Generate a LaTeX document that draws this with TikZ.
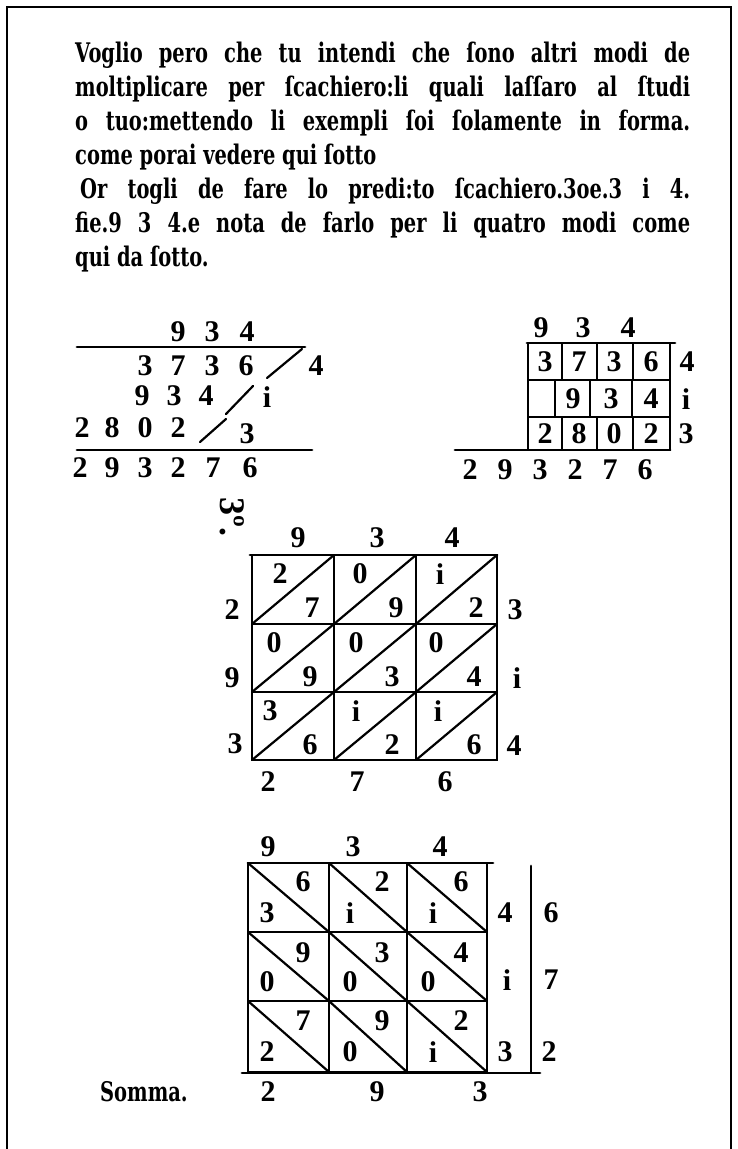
\documentclass[tikz,border=0pt]{standalone}
\usepackage{fontspec}
\setmainfont{Liberation Serif}
\newfontfamily\printfam{DejaVu Serif}[FakeStretch=0.72]
\newcommand\textfnt{\printfam\fontsize{27}{34}\selectfont\bfseries}
\newcommand\digfnt{\fontsize{30}{30}\selectfont\bfseries}

\begin{document}
\begin{tikzpicture}[x=1pt, y=-1pt,
  line/.style={anchor=west, inner sep=0pt, font=\textfnt},
  dig/.style={inner sep=0pt, font=\digfnt},
  rule/.style={line width=2.8pt, line cap=round},
  cell/.style={line width=2.2pt},
  diag/.style={line width=2.2pt, line cap=round}
]
  \useasboundingbox (0,0) rectangle (737,1149);
  \draw[line width=1.2pt] (7,1149) -- (7,7) -- (731,7) -- (731,1149);

  % text
  \node[line] (l1) at (75,55)  {\makebox[615pt][s]{Voglio pero che tu intendi che ſono altri modi de}};
  \node[line] (l2) at (75,89)  {\makebox[615pt][s]{moltiplicare per ſcachiero:li quali laſſaro al ſtudi}};
  \node[line] (l3) at (75,123) {\makebox[615pt][s]{o tuo:mettendo li exempli ſoi ſolamente in forma.}};
  \node[line] (l4) at (75,157) {come porai vedere qui ſotto};
  \node[line] (l5) at (80,191) {\makebox[610pt][s]{Or togli de fare lo predi:to ſcachiero.3oe.3 i 4.}};
  \node[line] (l6) at (75,225) {\makebox[615pt][s]{fie.9 3 4.e nota de farlo per li quatro modi come}};
  \node[line] (l7) at (75,259) {qui da ſotto.};

  % first way
  \node[dig] (at1) at (178,332) {9}; \node[dig] (at2) at (212,332) {3}; \node[dig] (at3) at (247,332) {4};
  \draw[rule] (77,347) -- (305,347);
  \node[dig] (aa1) at (145,366) {3}; \node[dig] (aa2) at (178,366) {7};
  \node[dig] (aa3) at (212,366) {3}; \node[dig] (aa4) at (246,366) {6};
  \node[dig] (ar1) at (316,366) {4};
  \draw[diag] (267,378) -- (302,349);
  \node[dig] (ab1) at (142,396) {9}; \node[dig] (ab2) at (174,396) {3}; \node[dig] (ab3) at (206,396) {4};
  \node[dig] (ar2) at (267,397) {i};
  \draw[diag] (226,414) -- (253,386);
  \node[dig] (ac1) at (82,428) {2}; \node[dig] (ac2) at (112,428) {8};
  \node[dig] (ac3) at (145,428) {0}; \node[dig] (ac4) at (178,428) {2};
  \node[dig] (ar3) at (247,434) {3};
  \draw[diag] (200,442) -- (226,419);
  \draw[rule] (77,450) -- (312,450);
  \node[dig] (as1) at (80,468) {2};  \node[dig] (as2) at (112,468) {9}; \node[dig] (as3) at (145,468) {3};
  \node[dig] (as4) at (178,468) {2}; \node[dig] (as5) at (213,468) {7}; \node[dig] (as6) at (250,468) {6};

  % second way
  \node[dig] (bt1) at (541,328) {9}; \node[dig] (bt2) at (583,328) {3}; \node[dig] (bt3) at (628,328) {4};
  \draw[cell] (528,343) rectangle (670,450);
  \draw[cell] (528,380) -- (670,380) (528,417) -- (670,417);
  \draw[cell] (562,343) -- (562,380) (597,343) -- (597,380) (633,343) -- (633,380);
  \draw[cell] (555,380) -- (555,417) (590,380) -- (590,417) (632,380) -- (632,417);
  \draw[cell] (562,417) -- (562,450) (597,417) -- (597,450) (633,417) -- (633,450);
  \draw[rule] (527,343) -- (675,343);
  \node[dig] (ba1) at (545,362) {3}; \node[dig] (ba2) at (579,362) {7};
  \node[dig] (ba3) at (614,362) {3}; \node[dig] (ba4) at (651,362) {6};
  \node[dig] (br1) at (687,362) {4};
  \node[dig] (bb1) at (573,399) {9}; \node[dig] (bb2) at (611,399) {3}; \node[dig] (bb3) at (651,399) {4};
  \node[dig] (br2) at (686,399) {i};
  \node[dig] (bc1) at (545,434) {2}; \node[dig] (bc2) at (579,434) {8};
  \node[dig] (bc3) at (614,434) {0}; \node[dig] (bc4) at (651,434) {2};
  \node[dig] (br3) at (686,434) {3};
  \draw[rule] (455,450) -- (670,450);
  \node[dig] (bs1) at (470,470) {2}; \node[dig] (bs2) at (505,470) {9}; \node[dig] (bs3) at (540,470) {3};
  \node[dig] (bs4) at (575,470) {2}; \node[dig] (bs5) at (610,470) {7}; \node[dig] (bs6) at (645,470) {6};

  % third way
  \node[dig, font=\fontsize{36}{36}\selectfont\bfseries, rotate=-90] (mark) at (232,517) {3º.};
  \node[dig] (ct1) at (298,538) {9}; \node[dig] (ct2) at (377,538) {3}; \node[dig] (ct3) at (452,538) {4};
  \draw[cell] (252,555) rectangle (497,760);
  \draw[cell] (334,555) -- (334,760) (416,555) -- (416,760);
  \draw[cell] (252,624) -- (497,624) (252,692) -- (497,692);
  \draw[rule] (250,555) -- (497,555);
  \draw[diag] (252,624) -- (334,555) (334,624) -- (416,555) (416,624) -- (497,555);
  \draw[diag] (252,692) -- (334,624) (334,692) -- (416,624) (416,692) -- (497,624);
  \draw[diag] (252,760) -- (334,692) (334,760) -- (416,692) (416,760) -- (497,692);
  \node[dig] (ca1) at (280,574) {2}; \node[dig] (ca2) at (312,608) {7};
  \node[dig] (ca3) at (360,574) {0}; \node[dig] (ca4) at (396,608) {9};
  \node[dig] (ca5) at (440,574) {i}; \node[dig] (ca6) at (476,608) {2};
  \node[dig] (cb1) at (274,643) {0}; \node[dig] (cb2) at (310,677) {9};
  \node[dig] (cb3) at (356,643) {0}; \node[dig] (cb4) at (392,677) {3};
  \node[dig] (cb5) at (436,643) {0}; \node[dig] (cb6) at (474,677) {4};
  \node[dig] (cc1) at (270,711) {3}; \node[dig] (cc2) at (310,745) {6};
  \node[dig] (cc3) at (356,711) {i}; \node[dig] (cc4) at (392,745) {2};
  \node[dig] (cc5) at (438,711) {i}; \node[dig] (cc6) at (474,745) {6};
  \node[dig] (cl1) at (232,610) {2}; \node[dig] (cl2) at (232,678) {9}; \node[dig] (cl3) at (235,744) {3};
  \node[dig] (cr1) at (515,610) {3}; \node[dig] (cr2) at (517,678) {i}; \node[dig] (cr3) at (514,746) {4};
  \node[dig] (cs1) at (268,782) {2}; \node[dig] (cs2) at (357,782) {7}; \node[dig] (cs3) at (445,782) {6};

  % fourth way
  \node[dig] (dt1) at (268,847) {9}; \node[dig] (dt2) at (353,847) {3}; \node[dig] (dt3) at (440,847) {4};
  \draw[cell] (248,863) rectangle (487,1072);
  \draw[cell] (329,863) -- (329,1072) (407,863) -- (407,1072);
  \draw[cell] (248,932) -- (487,932) (248,1001) -- (487,1001);
  \draw[rule] (248,863) -- (493,863);
  \draw[rule] (531,866) -- (531,1072);
  \draw[rule] (242,1073) -- (540,1073);
  \draw[diag] (248,863) -- (329,932) (329,863) -- (407,932) (407,863) -- (487,932);
  \draw[diag] (248,932) -- (329,1001) (329,932) -- (407,1001) (407,932) -- (487,1001);
  \draw[diag] (248,1001) -- (329,1072) (329,1001) -- (407,1072) (407,1001) -- (487,1072);
  \node[dig] (da1) at (303,882) {6}; \node[dig] (da2) at (267,913) {3};
  \node[dig] (da3) at (382,882) {2}; \node[dig] (da4) at (350,913) {i};
  \node[dig] (da5) at (461,882) {6}; \node[dig] (da6) at (433,913) {i};
  \node[dig] (db1) at (303,953) {9}; \node[dig] (db2) at (267,982) {0};
  \node[dig] (db3) at (382,953) {3}; \node[dig] (db4) at (350,982) {0};
  \node[dig] (db5) at (461,953) {4}; \node[dig] (db6) at (428,982) {0};
  \node[dig] (dc1) at (303,1021) {7}; \node[dig] (dc2) at (267,1052) {2};
  \node[dig] (dc3) at (382,1021) {9}; \node[dig] (dc4) at (350,1052) {0};
  \node[dig] (dc5) at (461,1021) {2}; \node[dig] (dc6) at (433,1052) {i};
  \node[dig] (dr1) at (505,913) {4}; \node[dig] (dr2) at (507,980) {i}; \node[dig] (dr3) at (505,1052) {3};
  \node[dig] (dq1) at (551,913) {6}; \node[dig] (dq2) at (551,980) {7}; \node[dig] (dq3) at (549,1052) {2};
  \node[line] (somma) at (100,1092) {Somma.};
  \node[dig] (ds1) at (268,1092) {2}; \node[dig] (ds2) at (377,1092) {9}; \node[dig] (ds3) at (480,1092) {3};
\end{tikzpicture}
\end{document}
